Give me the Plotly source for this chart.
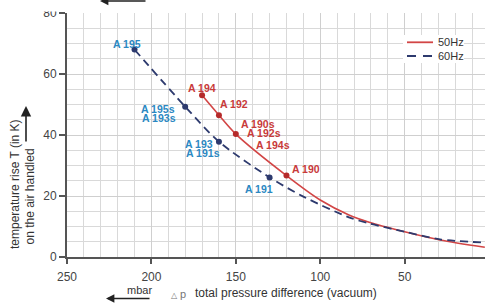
import plotly.graph_objects as go

# ---- data ----
red_x = [170, 160, 150, 120, 100, 83, 71, 50, 29, 2.5]
red_y = [53, 46.5, 40.3, 26.7, 18.7, 13.8, 11.4, 8.3, 5.6, 3.2]
blue_x = [210, 180, 160, 130, 110, 83, 71, 50, 29, 2.5]
blue_y = [68, 49.3, 37.8, 26.1, 19.8, 13.0, 11.0, 8.3, 5.8, 4.7]

red_pts_x = [170, 160, 150, 120]
red_pts_y = [53, 46.5, 40.3, 26.7]
blue_pts_x = [210, 180, 160, 130]
blue_pts_y = [68, 49.3, 37.8, 26.1]

series_names = ["50Hz", "60Hz"]
x_ticks = [250, 200, 150, 100, 50]
y_ticks = [0, 20, 40, 60, 80]

RED = "#d24545"
RED_M = "#b52a2a"
RED_T = "#c83a3a"
NAVY = "#2d3a6e"
BLUE_T = "#2b88c2"
FONT = "Liberation Sans, Arial, sans-serif"

# plot area in pixels
L, R, T, B = 67, 485, 13, 257
W, H = 485, 303


def px_x(px):
    return (px - L) / (R - L)


def px_y(py):
    return (B - py) / (B - T)


fig = go.Figure()
fig.add_trace(go.Scatter(x=red_x, y=red_y, mode="lines", name=series_names[0], showlegend=False,
                         line=dict(color=RED, width=1.6, shape="spline", smoothing=0.8)))
fig.add_trace(go.Scatter(x=blue_x, y=blue_y, mode="lines", name=series_names[1], showlegend=False,
                         line=dict(color=NAVY, width=1.8, dash="8px,5px", shape="spline", smoothing=0.8)))
fig.add_trace(go.Scatter(x=red_pts_x, y=red_pts_y, mode="markers", showlegend=False,
                         marker=dict(color=RED_M, size=6)))
fig.add_trace(go.Scatter(x=blue_pts_x, y=blue_pts_y, mode="markers", showlegend=False,
                         marker=dict(color=NAVY, size=6)))

ann = []


def lab(text, x, y, dx, dy, color, xanchor="center"):
    ann.append(dict(text="<b>%s</b>" % text, x=x, y=y, xref="x", yref="y",
                    xshift=dx, yshift=dy, xanchor=xanchor, yanchor="middle",
                    showarrow=False, font=dict(size=10.5, color=color, family=FONT)))


# red labels
lab("A 194", red_pts_x[0], red_pts_y[0], 0, 7, RED_T)
lab("A 192", red_pts_x[1], red_pts_y[1], 15, 11.5, RED_T)
lab("A 190s", red_pts_x[2], red_pts_y[2], 3, 10.5, RED_T, "left")
lab("A 192s", red_pts_x[2], red_pts_y[2], 9, 1.5, RED_T, "left")
lab("A 194s", red_pts_x[2], red_pts_y[2], 18, -11, RED_T, "left")
lab("A 190", red_pts_x[3], red_pts_y[3], 20, 6.7, RED_T)
# blue labels
lab("A 195", blue_pts_x[0], blue_pts_y[0], -7.5, 5.5, BLUE_T)
lab("A 195s", blue_pts_x[1], blue_pts_y[1], -8.5, -2.8, BLUE_T, "right")
lab("A 193s", blue_pts_x[1], blue_pts_y[1], -7.5, -11.8, BLUE_T, "right")
lab("A 193", blue_pts_x[2], blue_pts_y[2], -4, -2.3, BLUE_T, "right")
lab("A 191s", blue_pts_x[2], blue_pts_y[2], 3, -11.3, BLUE_T, "right")
lab("A 191", blue_pts_x[3], blue_pts_y[3], -11, -11.3, BLUE_T)

TXT = "#333333"
# y-axis title
ann.append(dict(text="temperature rise T (in K)", x=px_x(15), y=px_y(184), xref="paper", yref="paper",
                textangle=-90, showarrow=False, xanchor="center", yanchor="middle",
                font=dict(size=12, color=TXT, family=FONT)))
ann.append(dict(text="on the air handled", x=px_x(29), y=px_y(196.5), xref="paper", yref="paper",
                textangle=-90, showarrow=False, xanchor="center", yanchor="middle",
                font=dict(size=12, color=TXT, family=FONT)))
ann.append(dict(text="", x=px_x(26), y=px_y(106), xref="paper", yref="paper",
                showarrow=True, ax=0, ay=37, arrowhead=2, arrowsize=1.3, arrowwidth=1.6,
                arrowcolor="#222222"))
# x-axis title
ann.append(dict(text="total pressure difference (vacuum)", x=px_x(193), y=px_y(293), xref="paper",
                yref="paper", showarrow=False, xanchor="left", yanchor="middle",
                font=dict(size=12, color=TXT, family=FONT)))
ann.append(dict(text="<span style='font-size:8px'>△</span> p", x=px_x(178), y=px_y(293.5), xref="paper",
                yref="paper", showarrow=False, xanchor="center", yanchor="middle",
                font=dict(size=11, color="#777777", family=FONT)))
ann.append(dict(text="mbar", x=px_x(139), y=px_y(290), xref="paper", yref="paper",
                showarrow=False, xanchor="center", yanchor="middle",
                font=dict(size=11, color=TXT, family=FONT)))
ann.append(dict(text="", x=px_x(106), y=px_y(298.5), xref="paper", yref="paper",
                showarrow=True, ax=45, ay=0, arrowhead=2, arrowsize=1.2, arrowwidth=1.4,
                arrowcolor="#222222"))
# cut-off arrow at top
ann.append(dict(text="", x=px_x(100), y=px_y(1), xref="paper", yref="paper",
                showarrow=True, ax=47, ay=0, arrowhead=2, arrowsize=1.2, arrowwidth=1.4,
                arrowcolor="#222222"))
# legend texts
for name, py in zip(series_names, [42.3, 56]):
    ann.append(dict(text=name, x=px_x(436), y=px_y(py), xref="paper", yref="paper",
                    showarrow=False, xanchor="left", yanchor="middle",
                    font=dict(size=11, color=TXT, family=FONT)))

shapes = [
    dict(type="rect", xref="paper", yref="paper", x0=px_x(20), x1=px_x(62),
         y0=px_y(11.5), y1=px_y(-2), fillcolor="white", line=dict(width=0), layer="above"),
    # legend box
    dict(type="rect", xref="paper", yref="paper", x0=px_x(403), x1=px_x(464),
         y0=px_y(63), y1=px_y(35), fillcolor="white", line=dict(width=0), layer="above"),
    dict(type="line", xref="paper", yref="paper", x0=px_x(407), x1=px_x(433),
         y0=px_y(42.3), y1=px_y(42.3), line=dict(color=RED, width=1.8), layer="above"),
    dict(type="line", xref="paper", yref="paper", x0=px_x(407), x1=px_x(433),
         y0=px_y(56), y1=px_y(56), line=dict(color=NAVY, width=1.8, dash="9px,7px"), layer="above"),
]

fig.update_layout(
    width=W, height=H,
    margin=dict(l=L, r=W - R, t=T, b=H - B),
    paper_bgcolor="white", plot_bgcolor="white",
    font=dict(family=FONT, size=12, color=TXT),
    annotations=ann,
    shapes=shapes,
    showlegend=False,
)
fig.update_xaxes(range=[250, 2.4], tickvals=x_ticks, ticks="outside", ticklen=5, tickwidth=1.5,
                 tickcolor="#555555", showline=True, linecolor="#555555", linewidth=2,
                 showgrid=True, gridcolor="#cfcfcf", gridwidth=1, zeroline=False,
                 ticklabelstandoff=3,
                 minor=dict(dtick=10, showgrid=True, gridcolor="#d9d9d9", gridwidth=1),
                 tickfont=dict(size=12, color="#444444"))
fig.update_yaxes(range=[0, 80], tickvals=y_ticks, ticks="outside", ticklen=6, tickwidth=1.5,
                 tickcolor="#555555", showline=True, linecolor="#555555", linewidth=2,
                 showgrid=True, gridcolor="#cfcfcf", gridwidth=1, zeroline=False,
                 minor=dict(dtick=5, showgrid=True, gridcolor="#d9d9d9", gridwidth=1),
                 tickfont=dict(size=12, color="#444444"))

fig.write_html("out.html", config={"displayModeBar": False},
               post_script="document.body.style.margin='0';")
